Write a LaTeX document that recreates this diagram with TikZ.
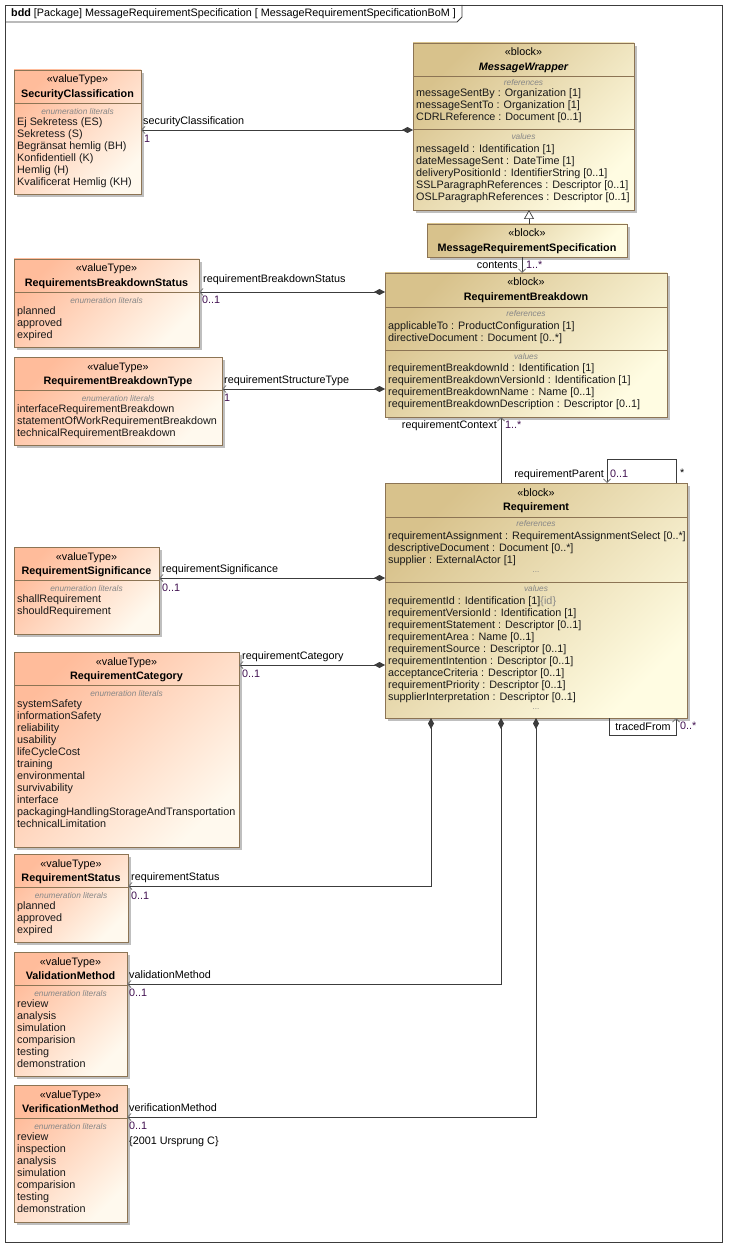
\documentclass[tikz,border=0pt]{standalone}
\usepackage{fontspec}
\setmainfont{Liberation Sans}
\usetikzlibrary{arrows.meta,shadows}
\definecolor{vtA}{RGB}{255,188,155}
\definecolor{vtB}{RGB}{255,249,238}
\definecolor{blA}{RGB}{216,194,140}
\definecolor{blB}{RGB}{255,252,226}
\definecolor{bord}{RGB}{140,116,84}
\definecolor{lnc}{RGB}{60,60,60}
\definecolor{mult}{RGB}{64,16,80}
\definecolor{grt}{RGB}{135,135,135}
\newcommand{\umlbox}[8]{%
  \node[#2, minimum width={(#5-#3)*1pt}, minimum height={(#6-#4)*1pt}] (#1) at ({(#3+#5)/2},{(#4+#6)/2}) {};
  \node[stereo] (#1-st) at ({(#3+#5)/2},{#4+9.5}) {«#7»};
  \node[ttl] (#1-ti) at ({(#3+#5)/2},{#4+24}) {#8};
}
\newcommand{\vtype}[7]{%
  \umlbox{#1}{vt}{#2}{#3}{#4}{#5}{valueType}{#6}
  \draw[sepl] ({#2},{#3+33.5}) -- ({#4},{#3+33.5});
  \node[sect] (#1-en) at ({(#2+#4)/2},{#3+41.5}) {enumeration literals};
  \foreach \t [count=\i from 0] in {#7} \node[item] (#1-\i) at ({#2+3},{#3+52+12*\i}) {\t};
}
\begin{document}
\begin{tikzpicture}[x=1pt,y=-1pt,
  font=\fontsize{10.8}{12}\selectfont,
  vt/.style={draw=bord, line width=0.6pt, top color=vtA, bottom color=vtB, shading angle=45,
    drop shadow={shadow xshift=3pt, shadow yshift=-3pt, fill=black!25, opacity=1}, inner sep=0, outer sep=0},
  bl/.style={draw=bord, line width=0.6pt, top color=blA, bottom color=blB, shading angle=45,
    drop shadow={shadow xshift=3pt, shadow yshift=-3pt, fill=black!25, opacity=1}, inner sep=0, outer sep=0},
  stereo/.style={inner sep=0, text height=9pt, text depth=2pt},
  ttl/.style={inner sep=0, text height=9pt, text depth=2pt, font=\fontsize{10.8}{12}\selectfont\bfseries},
  item/.style={anchor=west, inner sep=0, text height=9pt, text depth=2pt, text=black!90},
  sect/.style={inner sep=0, text height=7pt, text depth=1.5pt, text=grt, font=\fontsize{8.3}{9}\selectfont\itshape},
  dots/.style={inner sep=0, text height=7pt, text depth=1.5pt, text=grt, font=\fontsize{8}{9}\selectfont},
  lbl/.style={anchor=west, inner sep=0, text height=9pt, text depth=2pt},
  mlt/.style={lbl, text=mult},
  sepl/.style={draw=bord, line width=0.6pt},
  frm/.style={draw=lnc, line width=0.8pt},
  assoc/.style={draw=lnc, line width=0.7pt, arrows={Diamond[length=11pt,width=6pt]-Straight Barb[length=3.5pt,width=7pt,line width=0.8pt,color=black!55]}},
  nav/.style={draw=lnc, line width=0.7pt, arrows={-Straight Barb[length=3.5pt,width=7pt,line width=0.8pt,color=black!55]}},
  gen/.style={draw=lnc, line width=0.7pt, arrows={-Triangle[open,length=9pt,width=10pt,fill=white]}}
]
\useasboundingbox (0,0) rectangle (728,1246);
\fill[white] (0,0) rectangle (728,1246);
% frame
\draw[frm] (5,5) rectangle (722,1242);
\draw[frm] (5,22) -- (457,22) -- (462,17) -- (462,5);
\node[lbl] (hdr) at (11,13.5) {\textbf{bdd} [Package] MessageRequirementSpecification [ MessageRequirementSpecificationBoM ]};

% value types
\vtype{sc}{14}{70}{141}{194}{SecurityClassification}{Ej Sekretess (ES),Sekretess (S),Begränsat hemlig (BH),Konfidentiell (K),Hemlig (H),Kvalificerat Hemlig (KH)}
\vtype{rbs}{14}{259}{199}{347}{RequirementsBreakdownStatus}{planned,approved,expired}
\vtype{rbt}{14}{357}{222}{445}{RequirementBreakdownType}{interfaceRequirementBreakdown,statementOfWorkRequirementBreakdown,technicalRequirementBreakdown}
\vtype{rsig}{14}{547}{159}{634}{RequirementSignificance}{shallRequirement,shouldRequirement}
\vtype{rcat}{14}{652}{239}{847}{RequirementCategory}{systemSafety,informationSafety,reliability,usability,lifeCycleCost,training,environmental,survivability,interface,packagingHandlingStorageAndTransportation,technicalLimitation}
\vtype{rstat}{14}{854}{128}{942}{RequirementStatus}{planned,approved,expired}
\vtype{vm}{14}{952}{127}{1076}{ValidationMethod}{review,analysis,simulation,comparision,testing,demonstration}
\vtype{ver}{14}{1085}{127}{1222}{VerificationMethod}{review,inspection,analysis,simulation,comparision,testing,demonstration}

% MessageWrapper
\umlbox{mw}{bl}{413}{43}{634}{210}{block}{\itshape MessageWrapper}
\draw[sepl] (413,76) -- (634,76);
\draw[sepl] (413,129) -- (634,129);
\node[sect] (mw-rf) at (523.5,83) {references};
\foreach \t [count=\i from 0] in {{messageSentBy : Organization [1]},{messageSentTo : Organization [1]},{CDRLReference : Document [0..1]}}
  \node[item] (mw-r\i) at (416,{93+12*\i}) {\t};
\node[sect] (mw-vl) at (523.5,137) {values};
\foreach \t [count=\i from 0] in {{messageId : Identification [1]},{dateMessageSent : DateTime [1]},{deliveryPositionId : IdentifierString [0..1]},{SSLParagraphReferences : Descriptor [0..1]},{OSLParagraphReferences : Descriptor [0..1]}}
  \node[item] (mw-v\i) at (416,{149+12*\i}) {\t};

% MessageRequirementSpecification
\umlbox{mrs}{bl}{427}{224}{627}{257}{block}{MessageRequirementSpecification}

% RequirementBreakdown
\umlbox{rb}{bl}{385}{273}{667}{417}{block}{RequirementBreakdown}
\draw[sepl] (385,307) -- (667,307);
\draw[sepl] (385,350) -- (667,350);
\node[sect] (rb-rf) at (526,314) {references};
\foreach \t [count=\i from 0] in {{applicableTo : ProductConfiguration [1]},{directiveDocument : Document [0..*]}}
  \node[item] (rb-r\i) at (388,{326+12*\i}) {\t};
\node[sect] (rb-vl) at (526,357) {values};
\foreach \t [count=\i from 0] in {{requirementBreakdownId : Identification [1]},{requirementBreakdownVersionId : Identification [1]},{requirementBreakdownName : Name [0..1]},{requirementBreakdownDescription : Descriptor [0..1]}}
  \node[item] (rb-v\i) at (388,{368+12*\i}) {\t};

% Requirement
\umlbox{req}{bl}{385}{483}{687}{718}{block}{Requirement}
\draw[sepl] (385,517) -- (687,517);
\draw[sepl] (385,582) -- (687,582);
\node[sect] (req-rf) at (536,524) {references};
\foreach \t [count=\i from 0] in {{requirementAssignment : RequirementAssignmentSelect [0..*]},{descriptiveDocument : Document [0..*]},{supplier : ExternalActor [1]}}
  \node[item] (req-r\i) at (388,{536+12*\i}) {\t};
\node[dots] (req-d1) at (536,570) {...};
\node[sect] (req-vl) at (536,589) {values};
\foreach \t [count=\i from 0] in {{requirementId : Identification [1]\textcolor{grt}{\{id\}}},{requirementVersionId : Identification [1]},{requirementStatement : Descriptor [0..1]},{requirementArea : Name [0..1]},{requirementSource : Descriptor [0..1]},{requirementIntention : Descriptor [0..1]},{acceptanceCriteria : Descriptor [0..1]},{requirementPriority : Descriptor [0..1]},{supplierInterpretation : Descriptor [0..1]}}
  \node[item] (req-v\i) at (388,{601+12*\i}) {\t};
\node[dots] (req-d2) at (536,707) {...};

% connectors
\draw[assoc] (mw.west |- 0,130) -- (sc.east |- 0,130);
\draw[gen] (mrs.north -| 529,0) -- (mw.south -| 529,0);
\draw[nav] (mrs.south -| 522,0) -- (rb.north -| 522,0);
\draw[assoc] (rb.west |- 0,292) -- (rbs.east |- 0,292);
\draw[assoc] (rb.west |- 0,389) -- (rbt.east |- 0,389);
\draw[nav] (req.north -| 501,0) -- (rb.south -| 501,0);
\draw[nav] (req.north -| 676,0) -- (676,459) -- (607,459) -- (req.north -| 607,0);
\draw[nav] (req.south -| 609,0) -- (609,735) -- (676,735) -- (req.south -| 676,0);
\draw[assoc] (req.west |- 0,578) -- (rsig.east |- 0,578);
\draw[assoc] (req.west |- 0,665) -- (rcat.east |- 0,665);
\draw[assoc] (req.south -| 431,0) |- (rstat.east |- 0,886);
\draw[assoc] (req.south -| 501,0) |- (vm.east |- 0,984);
\draw[assoc] (req.south -| 536,0) |- (ver.east |- 0,1117);

% labels
\node[lbl] (l-sc) at (143,121) {securityClassification};
\node[mlt] (m-sc) at (144,139) {1};
\node[lbl, anchor=east] (l-ct) at (518,265) {contents};
\node[mlt] (m-ct) at (526,265) {1..*};
\node[lbl] (l-rbs) at (203,279) {requirementBreakdownStatus};
\node[mlt] (m-rbs) at (202,300) {0..1};
\node[lbl] (l-rst) at (224,380) {requirementStructureType};
\node[mlt] (m-rst) at (224,398) {1};
\node[lbl, anchor=east] (l-rc) at (497,425) {requirementContext};
\node[mlt] (m-rc) at (505,425) {1..*};
\node[lbl, anchor=east] (l-rp) at (604,474) {requirementParent};
\node[mlt] (m-rp) at (610,474) {0..1};
\node[lbl] (m-rp2) at (680,473) {*};
\node[lbl, anchor=center] (l-tf) at (643,727) {tracedFrom};
\node[mlt] (m-tf) at (680,726) {0..*};
\node[lbl] (l-rsg) at (162,569) {requirementSignificance};
\node[mlt] (m-rsg) at (162,588) {0..1};
\node[lbl] (l-rcat) at (242,656) {requirementCategory};
\node[mlt] (m-rcat) at (242,674) {0..1};
\node[lbl] (l-rs) at (131,877) {requirementStatus};
\node[mlt] (m-rs) at (131,896) {0..1};
\node[lbl] (l-vm) at (129,975) {validationMethod};
\node[mlt] (m-vm) at (129,993) {0..1};
\node[lbl] (l-ver) at (129,1108) {verificationMethod};
\node[mlt] (m-ver) at (129,1126) {0..1};
\node[lbl] (c-ver) at (129,1141) {\{2001 Ursprung C\}};
\end{tikzpicture}
\end{document}
